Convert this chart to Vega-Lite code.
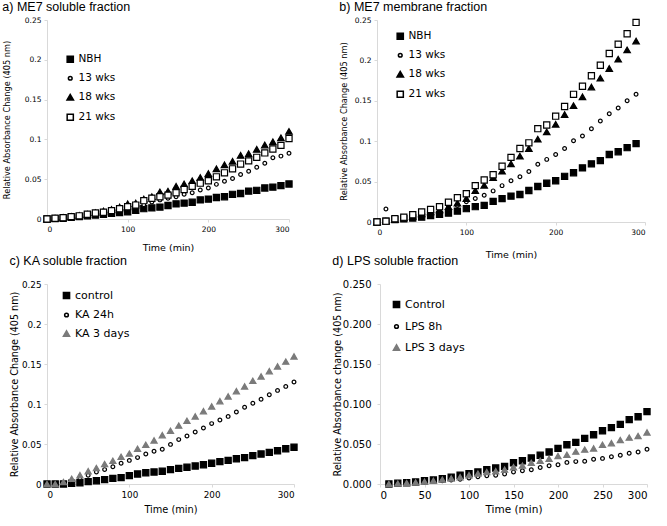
{
  "$schema": "https://vega.github.io/schema/vega-lite/v6.json",
  "padding": {"left": 2, "top": 0, "right": 2, "bottom": 0},
  "background": "white",
  "config": {
    "view": {"stroke": null},
    "font": "DejaVu Sans",
    "title": {"font": "Liberation Sans", "fontSize": 12.5, "fontWeight": "normal", "color": "black", "anchor": "start", "offset": 3},
    "axis": {"grid": false, "domainColor": "#d9d9d9", "tickColor": "#d9d9d9", "tickSize": 3, "labelColor": "black", "titleColor": "black", "titleFontWeight": "normal", "labelFont": "DejaVu Sans", "titleFont": "DejaVu Sans", "labelPadding": 3},
    "legend": {"labelFont": "DejaVu Sans", "labelColor": "black", "labelOffset": 3, "padding": 0, "symbolOffset": 0}
  },
  "resolve": {"scale": {"shape": "independent", "fill": "independent", "stroke": "independent", "size": "independent"}, "legend": {"shape": "independent", "fill": "independent", "stroke": "independent", "size": "independent"}},
  "datasets": {
    "a": [
      {"t":0,"v":0,"s":"NBH"},{"t":10,"v":0.0005,"s":"NBH"},{"t":20,"v":0.001,"s":"NBH"},{"t":30,"v":0.002,"s":"NBH"},{"t":40,"v":0.003,"s":"NBH"},{"t":50,"v":0.004,"s":"NBH"},{"t":60,"v":0.005,"s":"NBH"},{"t":70,"v":0.006,"s":"NBH"},{"t":80,"v":0.007,"s":"NBH"},{"t":90,"v":0.008,"s":"NBH"},{"t":100,"v":0.009,"s":"NBH"},{"t":110,"v":0.011,"s":"NBH"},{"t":120,"v":0.013,"s":"NBH"},{"t":130,"v":0.014,"s":"NBH"},{"t":140,"v":0.015,"s":"NBH"},{"t":150,"v":0.017,"s":"NBH"},{"t":160,"v":0.019,"s":"NBH"},{"t":170,"v":0.020,"s":"NBH"},{"t":180,"v":0.021,"s":"NBH"},{"t":190,"v":0.024,"s":"NBH"},{"t":200,"v":0.025,"s":"NBH"},{"t":210,"v":0.027,"s":"NBH"},{"t":220,"v":0.028,"s":"NBH"},{"t":230,"v":0.031,"s":"NBH"},{"t":240,"v":0.032,"s":"NBH"},{"t":250,"v":0.035,"s":"NBH"},{"t":260,"v":0.036,"s":"NBH"},{"t":270,"v":0.039,"s":"NBH"},{"t":280,"v":0.040,"s":"NBH"},{"t":290,"v":0.042,"s":"NBH"},{"t":300,"v":0.044,"s":"NBH"},
      {"t":0,"v":0,"s":"13 wks"},{"t":10,"v":0.001,"s":"13 wks"},{"t":20,"v":0.0017,"s":"13 wks"},{"t":30,"v":0.003,"s":"13 wks"},{"t":40,"v":0.004,"s":"13 wks"},{"t":50,"v":0.0055,"s":"13 wks"},{"t":60,"v":0.0065,"s":"13 wks"},{"t":70,"v":0.008,"s":"13 wks"},{"t":80,"v":0.009,"s":"13 wks"},{"t":90,"v":0.011,"s":"13 wks"},{"t":100,"v":0.013,"s":"13 wks"},{"t":110,"v":0.0155,"s":"13 wks"},{"t":120,"v":0.018,"s":"13 wks"},{"t":130,"v":0.0215,"s":"13 wks"},{"t":140,"v":0.024,"s":"13 wks"},{"t":150,"v":0.026,"s":"13 wks"},{"t":160,"v":0.028,"s":"13 wks"},{"t":170,"v":0.031,"s":"13 wks"},{"t":180,"v":0.033,"s":"13 wks"},{"t":190,"v":0.0365,"s":"13 wks"},{"t":200,"v":0.039,"s":"13 wks"},{"t":210,"v":0.0435,"s":"13 wks"},{"t":220,"v":0.0475,"s":"13 wks"},{"t":230,"v":0.051,"s":"13 wks"},{"t":240,"v":0.056,"s":"13 wks"},{"t":250,"v":0.060,"s":"13 wks"},{"t":260,"v":0.065,"s":"13 wks"},{"t":270,"v":0.070,"s":"13 wks"},{"t":280,"v":0.077,"s":"13 wks"},{"t":290,"v":0.079,"s":"13 wks"},{"t":300,"v":0.0825,"s":"13 wks"},
      {"t":0,"v":0,"s":"18 wks"},{"t":10,"v":0.001,"s":"18 wks"},{"t":20,"v":0.002,"s":"18 wks"},{"t":30,"v":0.003,"s":"18 wks"},{"t":40,"v":0.0045,"s":"18 wks"},{"t":50,"v":0.006,"s":"18 wks"},{"t":60,"v":0.008,"s":"18 wks"},{"t":70,"v":0.010,"s":"18 wks"},{"t":80,"v":0.012,"s":"18 wks"},{"t":90,"v":0.015,"s":"18 wks"},{"t":100,"v":0.019,"s":"18 wks"},{"t":110,"v":0.020,"s":"18 wks"},{"t":120,"v":0.025,"s":"18 wks"},{"t":130,"v":0.028,"s":"18 wks"},{"t":140,"v":0.034,"s":"18 wks"},{"t":150,"v":0.035,"s":"18 wks"},{"t":160,"v":0.041,"s":"18 wks"},{"t":170,"v":0.044,"s":"18 wks"},{"t":180,"v":0.048,"s":"18 wks"},{"t":190,"v":0.052,"s":"18 wks"},{"t":200,"v":0.057,"s":"18 wks"},{"t":210,"v":0.063,"s":"18 wks"},{"t":220,"v":0.068,"s":"18 wks"},{"t":230,"v":0.0725,"s":"18 wks"},{"t":240,"v":0.080,"s":"18 wks"},{"t":250,"v":0.082,"s":"18 wks"},{"t":260,"v":0.0875,"s":"18 wks"},{"t":270,"v":0.093,"s":"18 wks"},{"t":280,"v":0.097,"s":"18 wks"},{"t":290,"v":0.102,"s":"18 wks"},{"t":300,"v":0.110,"s":"18 wks"},
      {"t":0,"v":0,"s":"21 wks"},{"t":10,"v":0.001,"s":"21 wks"},{"t":20,"v":0.0017,"s":"21 wks"},{"t":30,"v":0.003,"s":"21 wks"},{"t":40,"v":0.004,"s":"21 wks"},{"t":50,"v":0.006,"s":"21 wks"},{"t":60,"v":0.0075,"s":"21 wks"},{"t":70,"v":0.0085,"s":"21 wks"},{"t":80,"v":0.0105,"s":"21 wks"},{"t":90,"v":0.013,"s":"21 wks"},{"t":100,"v":0.0155,"s":"21 wks"},{"t":110,"v":0.0175,"s":"21 wks"},{"t":120,"v":0.023,"s":"21 wks"},{"t":130,"v":0.026,"s":"21 wks"},{"t":140,"v":0.028,"s":"21 wks"},{"t":150,"v":0.030,"s":"21 wks"},{"t":160,"v":0.033,"s":"21 wks"},{"t":170,"v":0.037,"s":"21 wks"},{"t":180,"v":0.041,"s":"21 wks"},{"t":190,"v":0.045,"s":"21 wks"},{"t":200,"v":0.048,"s":"21 wks"},{"t":210,"v":0.053,"s":"21 wks"},{"t":220,"v":0.058,"s":"21 wks"},{"t":230,"v":0.063,"s":"21 wks"},{"t":240,"v":0.069,"s":"21 wks"},{"t":250,"v":0.073,"s":"21 wks"},{"t":260,"v":0.0775,"s":"21 wks"},{"t":270,"v":0.083,"s":"21 wks"},{"t":280,"v":0.088,"s":"21 wks"},{"t":290,"v":0.0925,"s":"21 wks"},{"t":300,"v":0.101,"s":"21 wks"}
    ],
    "b": [
      {"t":0,"v":0,"s":"NBH"},{"t":10,"v":0.001,"s":"NBH"},{"t":20,"v":0.003,"s":"NBH"},{"t":30,"v":0.004,"s":"NBH"},{"t":40,"v":0.005,"s":"NBH"},{"t":50,"v":0.006,"s":"NBH"},{"t":60,"v":0.008,"s":"NBH"},{"t":70,"v":0.0095,"s":"NBH"},{"t":80,"v":0.011,"s":"NBH"},{"t":90,"v":0.0135,"s":"NBH"},{"t":100,"v":0.0165,"s":"NBH"},{"t":110,"v":0.019,"s":"NBH"},{"t":120,"v":0.0205,"s":"NBH"},{"t":130,"v":0.0255,"s":"NBH"},{"t":140,"v":0.029,"s":"NBH"},{"t":150,"v":0.032,"s":"NBH"},{"t":160,"v":0.034,"s":"NBH"},{"t":170,"v":0.039,"s":"NBH"},{"t":180,"v":0.044,"s":"NBH"},{"t":190,"v":0.048,"s":"NBH"},{"t":200,"v":0.051,"s":"NBH"},{"t":210,"v":0.0565,"s":"NBH"},{"t":220,"v":0.061,"s":"NBH"},{"t":230,"v":0.067,"s":"NBH"},{"t":240,"v":0.072,"s":"NBH"},{"t":250,"v":0.076,"s":"NBH"},{"t":260,"v":0.0835,"s":"NBH"},{"t":270,"v":0.087,"s":"NBH"},{"t":280,"v":0.092,"s":"NBH"},{"t":290,"v":0.097,"s":"NBH"},
      {"t":0,"v":0,"s":"13 wks"},{"t":10,"v":0.016,"s":"13 wks"},{"t":20,"v":0.004,"s":"13 wks"},{"t":30,"v":0.006,"s":"13 wks"},{"t":40,"v":0.008,"s":"13 wks"},{"t":50,"v":0.011,"s":"13 wks"},{"t":60,"v":0.0145,"s":"13 wks"},{"t":70,"v":0.0165,"s":"13 wks"},{"t":80,"v":0.019,"s":"13 wks"},{"t":90,"v":0.0205,"s":"13 wks"},{"t":100,"v":0.025,"s":"13 wks"},{"t":110,"v":0.029,"s":"13 wks"},{"t":120,"v":0.033,"s":"13 wks"},{"t":130,"v":0.0385,"s":"13 wks"},{"t":140,"v":0.045,"s":"13 wks"},{"t":150,"v":0.051,"s":"13 wks"},{"t":160,"v":0.056,"s":"13 wks"},{"t":170,"v":0.0625,"s":"13 wks"},{"t":180,"v":0.0715,"s":"13 wks"},{"t":190,"v":0.0775,"s":"13 wks"},{"t":200,"v":0.0835,"s":"13 wks"},{"t":210,"v":0.091,"s":"13 wks"},{"t":220,"v":0.1005,"s":"13 wks"},{"t":230,"v":0.1065,"s":"13 wks"},{"t":240,"v":0.1155,"s":"13 wks"},{"t":250,"v":0.125,"s":"13 wks"},{"t":260,"v":0.134,"s":"13 wks"},{"t":270,"v":0.141,"s":"13 wks"},{"t":280,"v":0.150,"s":"13 wks"},{"t":290,"v":0.158,"s":"13 wks"},
      {"t":0,"v":0,"s":"18 wks"},{"t":10,"v":0.001,"s":"18 wks"},{"t":20,"v":0.003,"s":"18 wks"},{"t":30,"v":0.005,"s":"18 wks"},{"t":40,"v":0.007,"s":"18 wks"},{"t":50,"v":0.010,"s":"18 wks"},{"t":60,"v":0.0125,"s":"18 wks"},{"t":70,"v":0.015,"s":"18 wks"},{"t":80,"v":0.019,"s":"18 wks"},{"t":90,"v":0.0235,"s":"18 wks"},{"t":100,"v":0.029,"s":"18 wks"},{"t":110,"v":0.039,"s":"18 wks"},{"t":120,"v":0.0455,"s":"18 wks"},{"t":130,"v":0.055,"s":"18 wks"},{"t":140,"v":0.063,"s":"18 wks"},{"t":150,"v":0.072,"s":"18 wks"},{"t":160,"v":0.0815,"s":"18 wks"},{"t":170,"v":0.091,"s":"18 wks"},{"t":180,"v":0.1025,"s":"18 wks"},{"t":190,"v":0.1115,"s":"18 wks"},{"t":200,"v":0.121,"s":"18 wks"},{"t":210,"v":0.133,"s":"18 wks"},{"t":220,"v":0.144,"s":"18 wks"},{"t":230,"v":0.155,"s":"18 wks"},{"t":240,"v":0.167,"s":"18 wks"},{"t":250,"v":0.178,"s":"18 wks"},{"t":260,"v":0.190,"s":"18 wks"},{"t":270,"v":0.2015,"s":"18 wks"},{"t":280,"v":0.213,"s":"18 wks"},{"t":290,"v":0.224,"s":"18 wks"},
      {"t":0,"v":0,"s":"21 wks"},{"t":10,"v":0.001,"s":"21 wks"},{"t":20,"v":0.004,"s":"21 wks"},{"t":30,"v":0.006,"s":"21 wks"},{"t":40,"v":0.009,"s":"21 wks"},{"t":50,"v":0.0125,"s":"21 wks"},{"t":60,"v":0.0155,"s":"21 wks"},{"t":70,"v":0.019,"s":"21 wks"},{"t":80,"v":0.0245,"s":"21 wks"},{"t":90,"v":0.030,"s":"21 wks"},{"t":100,"v":0.035,"s":"21 wks"},{"t":110,"v":0.045,"s":"21 wks"},{"t":120,"v":0.052,"s":"21 wks"},{"t":130,"v":0.0585,"s":"21 wks"},{"t":140,"v":0.069,"s":"21 wks"},{"t":150,"v":0.080,"s":"21 wks"},{"t":160,"v":0.091,"s":"21 wks"},{"t":170,"v":0.098,"s":"21 wks"},{"t":180,"v":0.1155,"s":"21 wks"},{"t":190,"v":0.120,"s":"21 wks"},{"t":200,"v":0.131,"s":"21 wks"},{"t":210,"v":0.143,"s":"21 wks"},{"t":220,"v":0.158,"s":"21 wks"},{"t":230,"v":0.168,"s":"21 wks"},{"t":240,"v":0.181,"s":"21 wks"},{"t":250,"v":0.194,"s":"21 wks"},{"t":260,"v":0.2085,"s":"21 wks"},{"t":270,"v":0.220,"s":"21 wks"},{"t":280,"v":0.233,"s":"21 wks"},{"t":290,"v":0.247,"s":"21 wks"}
    ],
    "c": [
      {"t":0,"v":0,"s":"control"},{"t":10,"v":0,"s":"control"},{"t":20,"v":0,"s":"control"},{"t":30,"v":0.001,"s":"control"},{"t":40,"v":0.0015,"s":"control"},{"t":50,"v":0.003,"s":"control"},{"t":60,"v":0.004,"s":"control"},{"t":70,"v":0.0055,"s":"control"},{"t":80,"v":0.007,"s":"control"},{"t":90,"v":0.008,"s":"control"},{"t":100,"v":0.0105,"s":"control"},{"t":110,"v":0.0125,"s":"control"},{"t":120,"v":0.014,"s":"control"},{"t":130,"v":0.015,"s":"control"},{"t":140,"v":0.016,"s":"control"},{"t":150,"v":0.018,"s":"control"},{"t":160,"v":0.0195,"s":"control"},{"t":170,"v":0.021,"s":"control"},{"t":180,"v":0.0225,"s":"control"},{"t":190,"v":0.024,"s":"control"},{"t":200,"v":0.026,"s":"control"},{"t":210,"v":0.028,"s":"control"},{"t":220,"v":0.0295,"s":"control"},{"t":230,"v":0.0315,"s":"control"},{"t":240,"v":0.033,"s":"control"},{"t":250,"v":0.0355,"s":"control"},{"t":260,"v":0.0375,"s":"control"},{"t":270,"v":0.0395,"s":"control"},{"t":280,"v":0.0415,"s":"control"},{"t":290,"v":0.044,"s":"control"},{"t":300,"v":0.046,"s":"control"},
      {"t":0,"v":0,"s":"KA 24h"},{"t":10,"v":0,"s":"KA 24h"},{"t":20,"v":0.001,"s":"KA 24h"},{"t":30,"v":0.004,"s":"KA 24h"},{"t":40,"v":0.0075,"s":"KA 24h"},{"t":50,"v":0.011,"s":"KA 24h"},{"t":60,"v":0.015,"s":"KA 24h"},{"t":70,"v":0.018,"s":"KA 24h"},{"t":80,"v":0.0215,"s":"KA 24h"},{"t":90,"v":0.026,"s":"KA 24h"},{"t":100,"v":0.0295,"s":"KA 24h"},{"t":110,"v":0.033,"s":"KA 24h"},{"t":120,"v":0.0375,"s":"KA 24h"},{"t":130,"v":0.041,"s":"KA 24h"},{"t":140,"v":0.0435,"s":"KA 24h"},{"t":150,"v":0.0495,"s":"KA 24h"},{"t":160,"v":0.0555,"s":"KA 24h"},{"t":170,"v":0.060,"s":"KA 24h"},{"t":180,"v":0.065,"s":"KA 24h"},{"t":190,"v":0.070,"s":"KA 24h"},{"t":200,"v":0.0755,"s":"KA 24h"},{"t":210,"v":0.080,"s":"KA 24h"},{"t":220,"v":0.0845,"s":"KA 24h"},{"t":230,"v":0.090,"s":"KA 24h"},{"t":240,"v":0.096,"s":"KA 24h"},{"t":250,"v":0.101,"s":"KA 24h"},{"t":260,"v":0.106,"s":"KA 24h"},{"t":270,"v":0.1115,"s":"KA 24h"},{"t":280,"v":0.117,"s":"KA 24h"},{"t":290,"v":0.122,"s":"KA 24h"},{"t":300,"v":0.1275,"s":"KA 24h"},
      {"t":0,"v":0,"s":"KA 3 days"},{"t":10,"v":0,"s":"KA 3 days"},{"t":20,"v":0.0025,"s":"KA 3 days"},{"t":30,"v":0.0065,"s":"KA 3 days"},{"t":40,"v":0.011,"s":"KA 3 days"},{"t":50,"v":0.016,"s":"KA 3 days"},{"t":60,"v":0.020,"s":"KA 3 days"},{"t":70,"v":0.025,"s":"KA 3 days"},{"t":80,"v":0.029,"s":"KA 3 days"},{"t":90,"v":0.034,"s":"KA 3 days"},{"t":100,"v":0.038,"s":"KA 3 days"},{"t":110,"v":0.044,"s":"KA 3 days"},{"t":120,"v":0.049,"s":"KA 3 days"},{"t":130,"v":0.0545,"s":"KA 3 days"},{"t":140,"v":0.061,"s":"KA 3 days"},{"t":150,"v":0.0665,"s":"KA 3 days"},{"t":160,"v":0.073,"s":"KA 3 days"},{"t":170,"v":0.079,"s":"KA 3 days"},{"t":180,"v":0.0845,"s":"KA 3 days"},{"t":190,"v":0.091,"s":"KA 3 days"},{"t":200,"v":0.097,"s":"KA 3 days"},{"t":210,"v":0.1035,"s":"KA 3 days"},{"t":220,"v":0.1095,"s":"KA 3 days"},{"t":230,"v":0.116,"s":"KA 3 days"},{"t":240,"v":0.122,"s":"KA 3 days"},{"t":250,"v":0.129,"s":"KA 3 days"},{"t":260,"v":0.1345,"s":"KA 3 days"},{"t":270,"v":0.141,"s":"KA 3 days"},{"t":280,"v":0.147,"s":"KA 3 days"},{"t":290,"v":0.153,"s":"KA 3 days"},{"t":300,"v":0.1595,"s":"KA 3 days"}
    ],
    "d": [
      {"t":10,"v":0,"s":"Control"},{"t":20,"v":0.001,"s":"Control"},{"t":30,"v":0.0015,"s":"Control"},{"t":40,"v":0.0025,"s":"Control"},{"t":50,"v":0.004,"s":"Control"},{"t":60,"v":0.005,"s":"Control"},{"t":70,"v":0.0065,"s":"Control"},{"t":80,"v":0.0085,"s":"Control"},{"t":90,"v":0.011,"s":"Control"},{"t":100,"v":0.013,"s":"Control"},{"t":110,"v":0.015,"s":"Control"},{"t":120,"v":0.018,"s":"Control"},{"t":130,"v":0.020,"s":"Control"},{"t":140,"v":0.022,"s":"Control"},{"t":150,"v":0.0265,"s":"Control"},{"t":160,"v":0.029,"s":"Control"},{"t":170,"v":0.0325,"s":"Control"},{"t":180,"v":0.036,"s":"Control"},{"t":190,"v":0.040,"s":"Control"},{"t":200,"v":0.0445,"s":"Control"},{"t":210,"v":0.049,"s":"Control"},{"t":220,"v":0.052,"s":"Control"},{"t":230,"v":0.057,"s":"Control"},{"t":240,"v":0.0615,"s":"Control"},{"t":250,"v":0.0665,"s":"Control"},{"t":260,"v":0.0705,"s":"Control"},{"t":270,"v":0.0745,"s":"Control"},{"t":280,"v":0.0805,"s":"Control"},{"t":290,"v":0.084,"s":"Control"},{"t":300,"v":0.0905,"s":"Control"},
      {"t":10,"v":0,"s":"LPS 8h"},{"t":20,"v":0.0005,"s":"LPS 8h"},{"t":30,"v":0.001,"s":"LPS 8h"},{"t":40,"v":0.0015,"s":"LPS 8h"},{"t":50,"v":0.0025,"s":"LPS 8h"},{"t":60,"v":0.003,"s":"LPS 8h"},{"t":70,"v":0.004,"s":"LPS 8h"},{"t":80,"v":0.005,"s":"LPS 8h"},{"t":90,"v":0.006,"s":"LPS 8h"},{"t":100,"v":0.0074,"s":"LPS 8h"},{"t":110,"v":0.009,"s":"LPS 8h"},{"t":120,"v":0.0103,"s":"LPS 8h"},{"t":130,"v":0.011,"s":"LPS 8h"},{"t":140,"v":0.0124,"s":"LPS 8h"},{"t":150,"v":0.015,"s":"LPS 8h"},{"t":160,"v":0.0165,"s":"LPS 8h"},{"t":170,"v":0.0178,"s":"LPS 8h"},{"t":180,"v":0.0207,"s":"LPS 8h"},{"t":190,"v":0.0227,"s":"LPS 8h"},{"t":200,"v":0.024,"s":"LPS 8h"},{"t":210,"v":0.027,"s":"LPS 8h"},{"t":220,"v":0.028,"s":"LPS 8h"},{"t":230,"v":0.0285,"s":"LPS 8h"},{"t":240,"v":0.031,"s":"LPS 8h"},{"t":250,"v":0.032,"s":"LPS 8h"},{"t":260,"v":0.034,"s":"LPS 8h"},{"t":270,"v":0.036,"s":"LPS 8h"},{"t":280,"v":0.0384,"s":"LPS 8h"},{"t":290,"v":0.040,"s":"LPS 8h"},{"t":300,"v":0.0434,"s":"LPS 8h"},
      {"t":10,"v":0,"s":"LPS 3 days"},{"t":20,"v":0.0005,"s":"LPS 3 days"},{"t":30,"v":0.0012,"s":"LPS 3 days"},{"t":40,"v":0.002,"s":"LPS 3 days"},{"t":50,"v":0.003,"s":"LPS 3 days"},{"t":60,"v":0.004,"s":"LPS 3 days"},{"t":70,"v":0.0055,"s":"LPS 3 days"},{"t":80,"v":0.007,"s":"LPS 3 days"},{"t":90,"v":0.0085,"s":"LPS 3 days"},{"t":100,"v":0.011,"s":"LPS 3 days"},{"t":110,"v":0.013,"s":"LPS 3 days"},{"t":120,"v":0.015,"s":"LPS 3 days"},{"t":130,"v":0.016,"s":"LPS 3 days"},{"t":140,"v":0.018,"s":"LPS 3 days"},{"t":150,"v":0.021,"s":"LPS 3 days"},{"t":160,"v":0.023,"s":"LPS 3 days"},{"t":170,"v":0.0265,"s":"LPS 3 days"},{"t":180,"v":0.029,"s":"LPS 3 days"},{"t":190,"v":0.0315,"s":"LPS 3 days"},{"t":200,"v":0.035,"s":"LPS 3 days"},{"t":210,"v":0.0365,"s":"LPS 3 days"},{"t":220,"v":0.0405,"s":"LPS 3 days"},{"t":230,"v":0.043,"s":"LPS 3 days"},{"t":240,"v":0.0445,"s":"LPS 3 days"},{"t":250,"v":0.049,"s":"LPS 3 days"},{"t":260,"v":0.051,"s":"LPS 3 days"},{"t":270,"v":0.055,"s":"LPS 3 days"},{"t":280,"v":0.058,"s":"LPS 3 days"},{"t":290,"v":0.060,"s":"LPS 3 days"},{"t":300,"v":0.0645,"s":"LPS 3 days"}
    ]
  },
  "columns": 1,
  "align": "none",
  "spacing": -5,
  "concat": [
    {
      "spacing": 44,
      "resolve": {"scale": {"shape": "independent", "fill": "independent", "stroke": "independent", "size": "independent"}, "legend": {"shape": "independent", "fill": "independent", "stroke": "independent", "size": "independent"}},
      "hconcat": [
        {
          "width": 242, "height": 199,
          "title": {"text": "a) ME7 soluble fraction"},
          "data": {"name": "a"},
          "mark": {"type": "point", "filled": true, "strokeWidth": 1.2, "opacity": 1},
          "encoding": {
            "x": {"field": "t", "type": "quantitative", "scale": {"domain": [0, 300], "nice": false}, "axis": {"values": [0, 100, 200, 300], "title": "Time (min)", "labelFontSize": 7.5, "titleFontSize": 9.5, "titlePadding": 10}},
            "y": {"field": "v", "type": "quantitative", "scale": {"domain": [0, 0.25], "nice": false}, "axis": {"values": [0, 0.05, 0.1, 0.15, 0.2, 0.25], "format": "~g", "title": "Relative Absorbance Change (405 nm)", "labelFontSize": 7.5, "titleFontSize": 8.2, "titlePadding": 13}},
            "shape": {"field": "s", "type": "nominal", "scale": {"domain": ["NBH", "13 wks", "18 wks", "21 wks"], "range": ["square", "circle", "triangle-up", "square"]}, "legend": {"title": null, "orient": "none", "legendX": 18, "legendY": 34, "labelFontSize": 10.5, "rowPadding": 7}},
            "fill": {"field": "s", "type": "nominal", "scale": {"domain": ["NBH", "13 wks", "18 wks", "21 wks"], "range": ["black", "white", "black", "white"]}, "legend": {"title": null, "orient": "none", "legendX": 18, "legendY": 34, "labelFontSize": 10.5, "rowPadding": 7}},
            "stroke": {"field": "s", "type": "nominal", "scale": {"domain": ["NBH", "13 wks", "18 wks", "21 wks"], "range": ["black", "black", "black", "black"]}, "legend": {"title": null, "orient": "none", "legendX": 18, "legendY": 34, "labelFontSize": 10.5, "rowPadding": 7}},
            "size": {"field": "s", "type": "nominal", "scale": {"type": "ordinal", "domain": ["NBH", "13 wks", "18 wks", "21 wks"], "range": [38, 14, 42, 38]}, "legend": {"title": null, "orient": "none", "legendX": 18, "legendY": 34, "labelFontSize": 10.5, "rowPadding": 7}}
          }
        },
        {
          "width": 268, "height": 202,
          "title": {"text": "b) ME7 membrane fraction"},
          "data": {"name": "b"},
          "mark": {"type": "point", "filled": true, "strokeWidth": 1.2, "opacity": 1},
          "encoding": {
            "x": {"field": "t", "type": "quantitative", "scale": {"domain": [0, 300], "nice": false}, "axis": {"values": [0, 100, 200, 300], "title": "Time (min)", "labelFontSize": 7.5, "titleFontSize": 9.5, "titlePadding": 14}},
            "y": {"field": "v", "type": "quantitative", "scale": {"domain": [0, 0.25], "nice": false}, "axis": {"values": [0, 0.05, 0.1, 0.15, 0.2, 0.25], "format": "~g", "title": "Relative Absorbance Change (405 nm)", "labelFontSize": 7.5, "titleFontSize": 8.2, "titlePadding": 6}},
            "shape": {"field": "s", "type": "nominal", "scale": {"domain": ["NBH", "13 wks", "18 wks", "21 wks"], "range": ["square", "circle", "triangle-up", "square"]}, "legend": {"title": null, "orient": "none", "legendX": 18, "legendY": 11, "labelFontSize": 10.5, "rowPadding": 7}},
            "fill": {"field": "s", "type": "nominal", "scale": {"domain": ["NBH", "13 wks", "18 wks", "21 wks"], "range": ["black", "white", "black", "white"]}, "legend": {"title": null, "orient": "none", "legendX": 18, "legendY": 11, "labelFontSize": 10.5, "rowPadding": 7}},
            "stroke": {"field": "s", "type": "nominal", "scale": {"domain": ["NBH", "13 wks", "18 wks", "21 wks"], "range": ["black", "black", "black", "black"]}, "legend": {"title": null, "orient": "none", "legendX": 18, "legendY": 11, "labelFontSize": 10.5, "rowPadding": 7}},
            "size": {"field": "s", "type": "nominal", "scale": {"type": "ordinal", "domain": ["NBH", "13 wks", "18 wks", "21 wks"], "range": [38, 14, 42, 38]}, "legend": {"title": null, "orient": "none", "legendX": 18, "legendY": 11, "labelFontSize": 10.5, "rowPadding": 7}}
          }
        }
      ]
    },
    {
      "spacing": 32,
      "resolve": {"scale": {"shape": "independent", "fill": "independent", "stroke": "independent", "size": "independent"}, "legend": {"shape": "independent", "fill": "independent", "stroke": "independent", "size": "independent"}},
      "hconcat": [
        {
          "width": 247, "height": 200,
          "title": {"text": "c) KA soluble fraction", "offset": 13},
          "data": {"name": "c"},
          "mark": {"type": "point", "filled": true, "strokeWidth": 1.2, "opacity": 1},
          "encoding": {
            "x": {"field": "t", "type": "quantitative", "scale": {"domain": [0, 300], "nice": false}, "axis": {"values": [0, 100, 200, 300], "title": "Time (min)", "labelFontSize": 8.8, "titleFontSize": 9.8, "titlePadding": 6}},
            "y": {"field": "v", "type": "quantitative", "scale": {"domain": [0, 0.25], "nice": false}, "axis": {"values": [0, 0.05, 0.1, 0.15, 0.2, 0.25], "format": "~g", "title": "Relative Absorbance Change (405 nm)", "labelFontSize": 8.8, "titleFontSize": 9.6, "titlePadding": 2, "labelPadding": 3}},
            "shape": {"field": "s", "type": "nominal", "scale": {"domain": ["control", "KA 24h", "KA 3 days"], "range": ["square", "circle", "triangle-up"]}, "legend": {"title": null, "orient": "none", "legendX": 14, "legendY": 6, "labelFontSize": 11, "rowPadding": 6.5}},
            "fill": {"field": "s", "type": "nominal", "scale": {"domain": ["control", "KA 24h", "KA 3 days"], "range": ["black", "white", "#7a7a7a"]}, "legend": {"title": null, "orient": "none", "legendX": 14, "legendY": 6, "labelFontSize": 11, "rowPadding": 6.5}},
            "stroke": {"field": "s", "type": "nominal", "scale": {"domain": ["control", "KA 24h", "KA 3 days"], "range": ["black", "black", "#7a7a7a"]}, "legend": {"title": null, "orient": "none", "legendX": 14, "legendY": 6, "labelFontSize": 11, "rowPadding": 6.5}},
            "size": {"field": "s", "type": "nominal", "scale": {"type": "ordinal", "domain": ["control", "KA 24h", "KA 3 days"], "range": [38, 14, 38]}, "legend": {"title": null, "orient": "none", "legendX": 14, "legendY": 6, "labelFontSize": 11, "rowPadding": 6.5}}
          }
        },
        {
          "width": 267, "height": 200,
          "title": {"text": "d) LPS soluble fraction", "offset": 12},
          "data": {"name": "d"},
          "mark": {"type": "point", "filled": true, "strokeWidth": 1.2, "opacity": 1},
          "encoding": {
            "x": {"field": "t", "type": "quantitative", "scale": {"domain": [0, 300], "nice": false}, "axis": {"values": [0, 50, 100, 150, 200, 250, 300], "title": "Time (min)", "labelFontSize": 10.3, "titleFontSize": 10.5, "titlePadding": 4}},
            "y": {"field": "v", "type": "quantitative", "scale": {"domain": [0, 0.25], "nice": false}, "axis": {"values": [0, 0.05, 0.1, 0.15, 0.2, 0.25], "format": ".3f", "title": "Relative Absorbance change (405 nm)", "labelFontSize": 10, "titleFontSize": 9.6, "titlePadding": 0, "labelPadding": 6}},
            "shape": {"field": "s", "type": "nominal", "scale": {"domain": ["Control", "LPS 8h", "LPS 3 days"], "range": ["square", "circle", "triangle-up"]}, "legend": {"title": null, "orient": "none", "legendX": 11, "legendY": 15, "labelFontSize": 11, "rowPadding": 9}},
            "fill": {"field": "s", "type": "nominal", "scale": {"domain": ["Control", "LPS 8h", "LPS 3 days"], "range": ["black", "white", "#7a7a7a"]}, "legend": {"title": null, "orient": "none", "legendX": 11, "legendY": 15, "labelFontSize": 11, "rowPadding": 9}},
            "stroke": {"field": "s", "type": "nominal", "scale": {"domain": ["Control", "LPS 8h", "LPS 3 days"], "range": ["black", "black", "#7a7a7a"]}, "legend": {"title": null, "orient": "none", "legendX": 11, "legendY": 15, "labelFontSize": 11, "rowPadding": 9}},
            "size": {"field": "s", "type": "nominal", "scale": {"type": "ordinal", "domain": ["Control", "LPS 8h", "LPS 3 days"], "range": [38, 14, 38]}, "legend": {"title": null, "orient": "none", "legendX": 11, "legendY": 15, "labelFontSize": 11, "rowPadding": 9}}
          }
        }
      ]
    }
  ]
}
